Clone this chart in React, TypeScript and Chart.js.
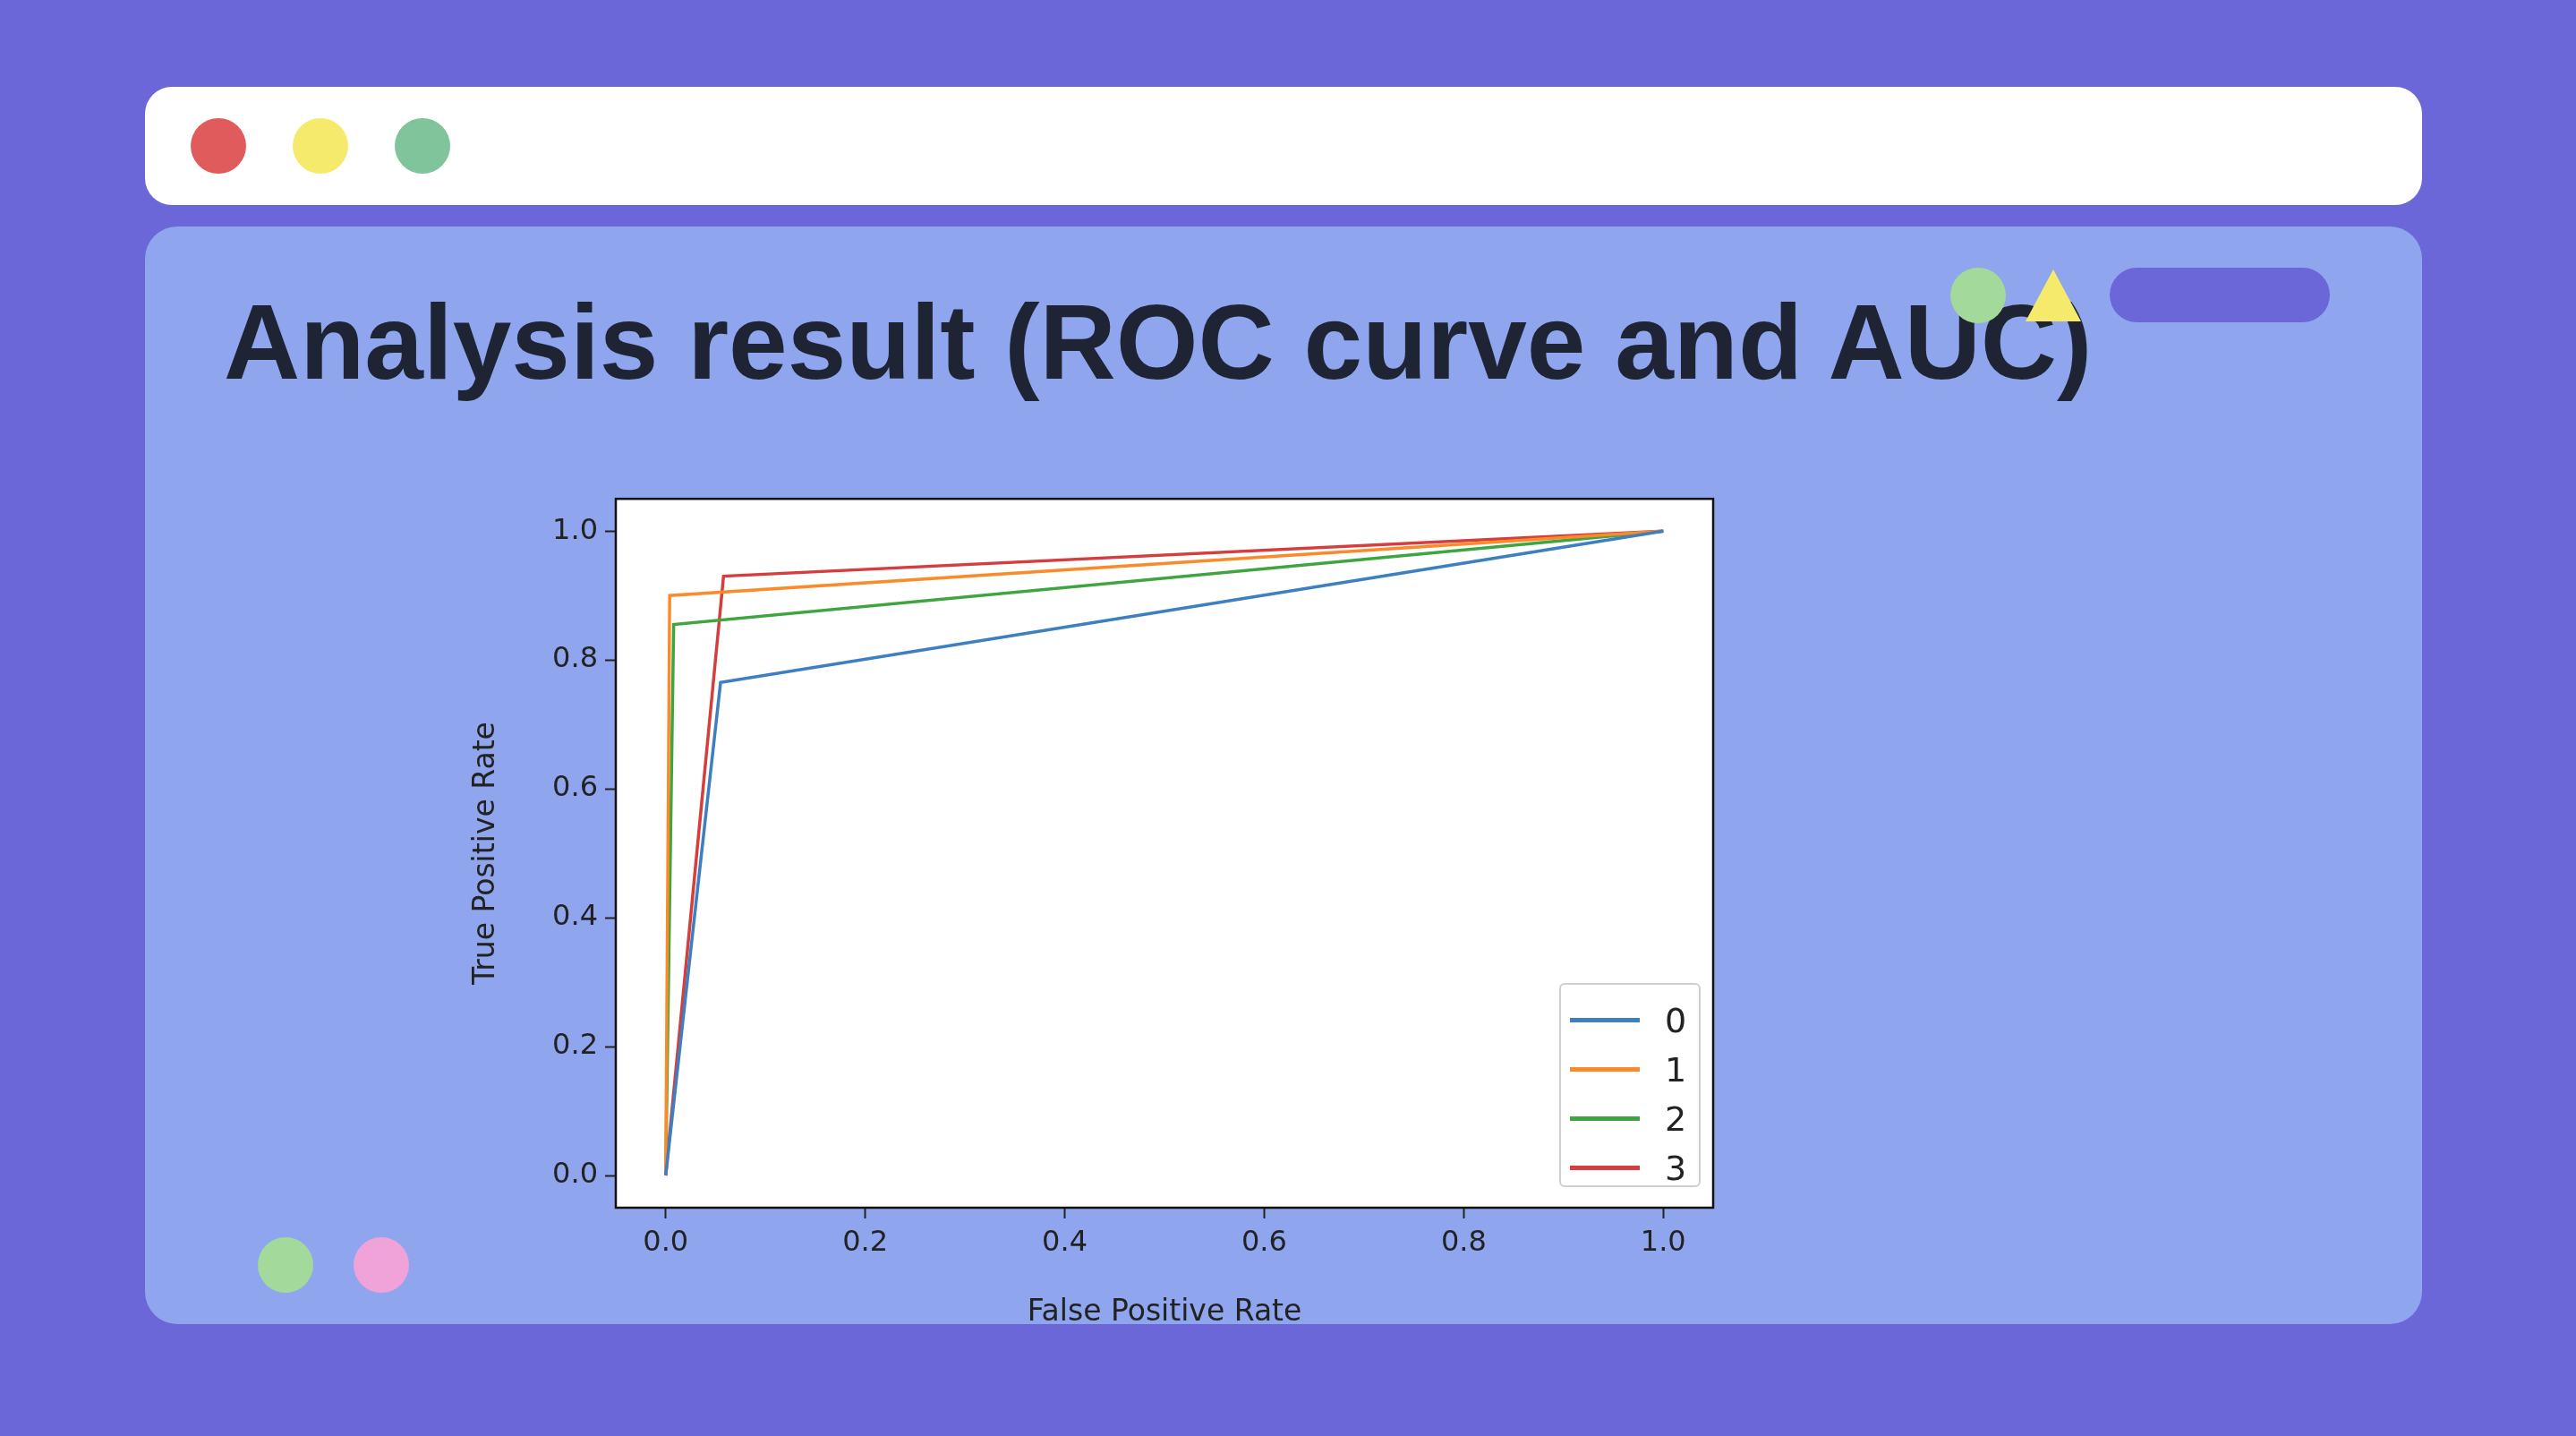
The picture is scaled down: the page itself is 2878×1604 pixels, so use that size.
import React, { useEffect, useRef } from "react";
import { Chart, registerables } from "chart.js";

Chart.register(...registerables);

const classLabels = ["0", "1", "2", "3"];
const classColors = ["#3d7fc0", "#fb8b2a", "#3fa53f", "#d63e3e"];
const fprValues = [
  [0, 0.055, 1],
  [0, 0.004, 1],
  [0, 0.008, 1],
  [0, 0.058, 1],
];
const tprValues = [
  [0, 0.765, 1],
  [0, 0.9, 1],
  [0, 0.855, 1],
  [0, 0.93, 1],
];
const tickValues = [0, 0.2, 0.4, 0.6, 0.8, 1.0];

const FONT = "'DejaVu Sans', sans-serif";

const framePlugin = {
  id: "frame",
  beforeDraw(chart: Chart) {
    const { ctx, chartArea: a } = chart;
    ctx.save();
    ctx.fillStyle = "#ffffff";
    ctx.fillRect(a.left, a.top, a.right - a.left, a.bottom - a.top);
    ctx.restore();
  },
  afterDraw(chart: Chart) {
    const { ctx, chartArea: a } = chart;
    ctx.save();
    ctx.strokeStyle = "#111";
    ctx.lineWidth = 2.5;
    ctx.strokeRect(a.left, a.top, a.right - a.left, a.bottom - a.top);
    ctx.restore();
  },
};

const RocChart: React.FC = () => {
  const chartRef = useRef<HTMLCanvasElement>(null);
  const chartInstance = useRef<Chart | null>(null);

  useEffect(() => {
    if (!chartRef.current) return;
    chartInstance.current?.destroy();
    const tickOpts = {
      color: "#222",
      font: { family: FONT, size: 32 },
      padding: 8,
      callback: (v: any) => Number(v).toFixed(1),
    };
    const gridOpts = {
      display: true,
      drawOnChartArea: false,
      drawTicks: true,
      tickLength: 12,
      tickWidth: 2,
      color: "#222",
    };
    chartInstance.current = new Chart(chartRef.current, {
      type: "line",
      data: {
        datasets: classLabels.map((label, i) => ({
          label,
          data: fprValues[i].map((x, j) => ({ x, y: tprValues[i][j] })),
          borderColor: classColors[i],
          borderWidth: 3.5,
          pointRadius: 0,
          fill: false,
          tension: 0,
        })),
      },
      options: {
        animation: false,
        responsive: false,
        maintainAspectRatio: false,
        layout: { padding: { top: 19, right: 26, left: 0, bottom: 0 } },
        plugins: { legend: { display: false }, tooltip: { enabled: false } },
        scales: {
          x: {
            type: "linear",
            min: -0.05,
            max: 1.05,
            afterBuildTicks: (s: any) => {
              s.ticks = tickValues.map((value) => ({ value }));
            },
            afterFit: (s: any) => {
              s.height = 141;
            },
            ticks: tickOpts,
            grid: gridOpts,
            border: { display: false },
            title: {
              display: true,
              text: "False Positive Rate",
              color: "#222",
              font: { family: FONT, size: 33 },
              padding: { top: 4 },
            },
          },
          y: {
            type: "linear",
            min: -0.05,
            max: 1.05,
            afterBuildTicks: (s: any) => {
              s.ticks = tickValues.map((value) => ({ value }));
            },
            afterFit: (s: any) => {
              s.width = 168;
            },
            ticks: tickOpts,
            grid: gridOpts,
            border: { display: false },
            title: {
              display: true,
              text: "True Positive Rate",
              color: "#222",
              font: { family: FONT, size: 33 },
              padding: { bottom: 4 },
            },
          },
        },
      },
      plugins: [framePlugin],
    });
    return () => {
      chartInstance.current?.destroy();
      chartInstance.current = null;
    };
  }, []);

  return (
    <div style={{ position: "absolute", left: 520, top: 530, width: 1420, height: 960 }}>
      <canvas ref={chartRef} width={1420} height={960} style={{ width: 1420, height: 960 }} />
      <div
        style={{
          position: "absolute",
          left: 1222,
          top: 568,
          width: 158,
          height: 228,
          background: "rgba(255,255,255,0.9)",
          border: "2px solid #d0d0d0",
          borderRadius: 6,
          boxSizing: "border-box",
          padding: "12px 10px",
          fontFamily: FONT,
          fontSize: 38,
          color: "#222",
        }}
      >
        {classLabels.map((label, i) => (
          <div key={label} style={{ display: "flex", alignItems: "center", height: 55 }}>
            <span style={{ display: "inline-block", width: 78, height: 5, background: classColors[i], marginRight: 28 }} />
            <span>{label}</span>
          </div>
        ))}
      </div>
    </div>
  );
};

const Dot = ({ x, y, r, color }: { x: number; y: number; r: number; color: string }) => (
  <div
    style={{
      position: "absolute",
      left: x - r,
      top: y - r,
      width: r * 2,
      height: r * 2,
      borderRadius: "50%",
      background: color,
    }}
  />
);

export default function App() {
  return (
    <div
      style={{
        position: "fixed",
        left: 0,
        top: 0,
        width: 2878,
        height: 1604,
        background: "#6b67d8",
        overflow: "hidden",
        fontFamily: "'Liberation Sans', Arial, sans-serif",
      }}
    >
      <div
        style={{
          position: "absolute",
          left: 162,
          top: 97,
          width: 2544,
          height: 132,
          background: "#ffffff",
          borderRadius: 30,
        }}
      />
      <Dot x={244} y={163} r={31} color="#e05c5c" />
      <Dot x={358} y={163} r={31} color="#f6ea6c" />
      <Dot x={472} y={163} r={31} color="#7fc49a" />
      <div
        style={{
          position: "absolute",
          left: 162,
          top: 253,
          width: 2544,
          height: 1226,
          background: "#8fa6ee",
          borderRadius: 36,
        }}
      />
      <div
        style={{
          position: "absolute",
          left: 250,
          top: 318,
          fontSize: 118,
          fontWeight: 700,
          color: "#1e2433",
          whiteSpace: "nowrap",
          lineHeight: 1.1,
        }}
      >
        Analysis result (ROC curve and AUC)
      </div>
      <Dot x={2210} y={330} r={31} color="#a3d99a" />
      <div
        style={{
          position: "absolute",
          left: 2263,
          top: 301,
          width: 0,
          height: 0,
          borderLeft: "31px solid transparent",
          borderRight: "31px solid transparent",
          borderBottom: "58px solid #f6ea6c",
        }}
      />
      <div
        style={{
          position: "absolute",
          left: 2357,
          top: 299,
          width: 246,
          height: 61,
          borderRadius: 31,
          background: "#6b67d8",
        }}
      />
      <Dot x={319} y={1413} r={31} color="#a3d99a" />
      <Dot x={426} y={1413} r={31} color="#f0a3d8" />
      <RocChart />
    </div>
  );
}
